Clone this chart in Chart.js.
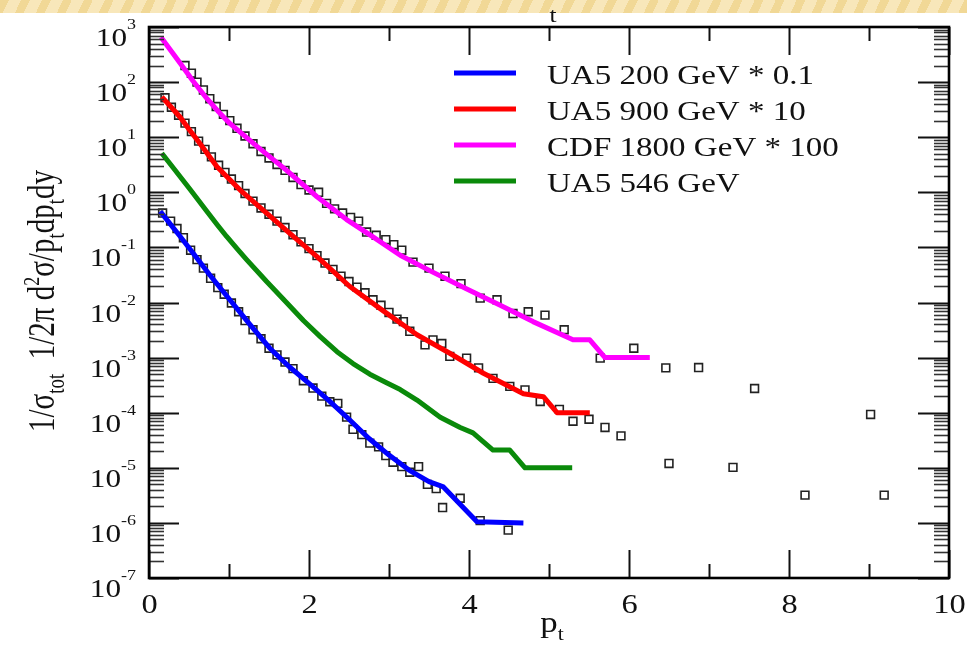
<!DOCTYPE html>
<html>
<head>
<meta charset="utf-8">
<script src="https://cdn.jsdelivr.net/npm/chart.js@4.4.1/dist/chart.umd.min.js"></script>
<style>
html,body{margin:0;padding:0;background:#fff;width:967px;height:658px;overflow:hidden;}
#band{position:absolute;left:0;top:0;width:967px;height:13px;overflow:hidden;
  background:repeating-linear-gradient(115deg,#f1d896 0 8px,#f8e7ba 8px 19px);}
#wrap{position:absolute;left:0;top:0;width:967px;height:658px;overflow:hidden;}
#ptChart{display:block;}
</style>
</head>
<body>
<div id="band"></div>
<div id="wrap"><canvas id="ptChart" width="967" height="658"></canvas></div>
<script>

// ---- fitted curves (pt, value) ----
const blueCurveX = [0.14,0.39,0.55,0.76,1.01,1.26,1.51,1.75,2.0,2.25,2.5,2.75,3.0,3.25,3.5,3.68,4.10,4.68];
const blueCurveY = [0.45,0.158,0.079,0.0316,0.0112,0.004,0.00148,0.00069,0.00034,0.000166,0.000076,0.000034,0.000017,0.0000091,0.0000056,0.0000045,0.00000105,0.000001];

const redCurveX = [0.16,0.27,0.39,0.5,0.62,0.85,1.14,1.47,1.76,2.10,2.51,2.92,3.35,3.76,4.18,4.68,4.93,5.10,5.51];
const redCurveY = [54,36,23,14,8.3,2.9,1.1,0.42,0.18,0.068,0.0195,0.0072,0.0026,0.0012,0.00052,0.00022,0.000195,0.0001,0.0001];

const magCurveX = [0.15,0.27,0.39,0.55,0.72,0.86,1.01,1.35,1.72,2.10,2.47,2.80,3.14,3.54,3.96,4.39,4.80,5.30,5.51,5.70,6.26];
const magCurveY = [650,380,220,105,51,30,17.8,6.8,2.5,0.83,0.32,0.155,0.072,0.036,0.018,0.0089,0.0045,0.0021,0.0021,0.001,0.001];

const greenCurveX = [0.16,0.30,0.51,0.72,0.85,0.97,1.1,1.22,1.47,1.68,1.93,2.14,2.35,2.55,2.76,2.95,3.14,3.35,3.64,3.89,4.05,4.30,4.51,4.70,5.29];
const greenCurveY = [5.1,2.82,1.15,0.457,0.26,0.158,0.095,0.06,0.024,0.0115,0.0047,0.0024,0.00128,0.00078,0.0005,0.00036,0.000263,0.00017,0.000083,0.000054,0.000043,0.000021,0.000021,0.00001,0.00001];

// ---- measured points (open squares) ----
const ua200PtsX = [0.17,0.27,0.35,0.43,0.52,0.6,0.68,0.77,0.86,0.94,1.03,1.12,1.2,1.3,1.4,1.5,1.6,1.7,1.8,1.93,2.05,2.16,2.26,2.36,2.47,2.55,2.66,2.76,2.87,2.96,3.05,3.16,3.26,3.37,3.48,3.59,3.67,3.89,4.14,4.49];
const ua200PtsY = [0.42,0.30,0.22,0.15,0.089,0.06,0.042,0.0275,0.0186,0.0141,0.0098,0.0068,0.0047,0.0032,0.0022,0.00148,0.00112,0.00083,0.00063,0.00038,0.00028,0.0002,0.000158,0.000148,0.000083,0.00005,0.00004,0.000028,0.000024,0.0000166,0.0000126,0.0000105,0.0000083,0.0000105,0.000005,0.0000042,0.0000019,0.0000028,0.0000011,0.00000074];

const ua900PtsX = [0.2,0.28,0.37,0.45,0.53,0.62,0.7,0.78,0.87,0.95,1.03,1.12,1.2,1.3,1.4,1.5,1.6,1.7,1.8,1.9,2.0,2.1,2.2,2.3,2.4,2.5,2.6,2.7,2.8,2.9,3.0,3.1,3.18,3.26,3.45,3.55,3.66,3.76,3.97,4.12,4.3,4.51,4.7,4.89,5.13,5.3,5.5,5.7,5.9,6.5,7.3,8.2,9.19];
const ua900PtsY = [52,35,25,18,12.6,8.5,6.0,4.4,3.1,2.3,1.74,1.32,0.95,0.69,0.52,0.4,0.3,0.23,0.17,0.126,0.095,0.071,0.052,0.04,0.03,0.024,0.019,0.015,0.0112,0.0089,0.0066,0.005,0.0045,0.003,0.0017,0.0021,0.0018,0.00105,0.00098,0.00065,0.00042,0.0003,0.00026,0.00016,0.000115,0.00007,0.000076,0.000054,0.000038,0.000012,0.0000102,0.0000032,0.0000032];

const cdfPtsX = [0.45,0.53,0.6,0.68,0.76,0.84,0.93,1.01,1.1,1.2,1.3,1.4,1.5,1.6,1.7,1.8,1.9,2.0,2.12,2.22,2.32,2.42,2.52,2.62,2.72,2.84,2.96,3.06,3.16,3.3,3.5,3.7,3.9,4.14,4.35,4.55,4.74,4.95,5.19,5.64,6.06,6.46,6.87,7.57,9.02];
const cdfPtsY = [200,145,100,72,50,36,26,20,14.5,10.5,7.6,5.5,4.2,3.2,2.5,1.86,1.38,1.1,1.0,0.63,0.5,0.42,0.35,0.3,0.19,0.166,0.138,0.112,0.089,0.054,0.042,0.030,0.022,0.012,0.0112,0.0063,0.0068,0.0059,0.0032,0.00098,0.00148,0.00065,0.00066,0.000275,0.000093];

// ---- axes ----
const xMajorTicks = [0,2,4,6,8,10];
const xMinorTicks = [1,3,5,7,9];
const yTickExps = [3,2,1,0,-1,-2,-3,-4,-5,-6,-7];

const serif = '"Liberation Serif", "DejaVu Serif", serif';
const stretch = 1.2;

function pts(xs, ys){
  return xs.map((x, i) => ({x: x, y: ys[i]}));
}

function richWidth(ctx, parts){
  let w = 0;
  parts.forEach(p => {
    ctx.font = p[1] + 'px ' + serif;
    w += ctx.measureText(p[0]).width;
  });
  return w;
}

// parts: [text, fontSize, baselineShift]
function drawRich(ctx, parts, x, y, sx, anchor){
  const total = richWidth(ctx, parts);
  let cx = anchor === 'right' ? -total : (anchor === 'center' ? -total / 2 : 0);
  ctx.save();
  ctx.translate(x, y);
  ctx.scale(sx, 1);
  ctx.textAlign = 'left';
  ctx.textBaseline = 'alphabetic';
  parts.forEach(p => {
    ctx.font = p[1] + 'px ' + serif;
    ctx.fillText(p[0], cx, p[2]);
    cx += ctx.measureText(p[0]).width;
  });
  ctx.restore();
}

function seg(ctx, x1, y1, x2, y2){
  ctx.beginPath();
  ctx.moveTo(x1, y1);
  ctx.lineTo(x2, y2);
  ctx.stroke();
}

const framePlugin = {
  id: 'framePlugin',
  afterDraw(chart){
    const ctx = chart.ctx;
    const a = chart.chartArea;
    const xs = chart.scales.x;
    const ys = chart.scales.y;
    ctx.save();
    ctx.fillStyle = '#111';

    // y minor ticks
    ctx.strokeStyle = '#333';
    ctx.lineWidth = 1.6;
    for (let i = 0; i < yTickExps.length - 1; i++){
      const e = yTickExps[i + 1];
      for (let m = 2; m <= 9; m++){
        const py = Math.round(ys.getPixelForValue(m * Math.pow(10, e))) + 0.5;
        seg(ctx, a.left, py, a.left + 15, py);
        seg(ctx, a.right - 15, py, a.right, py);
      }
    }
    // y major ticks + labels
    ctx.strokeStyle = '#111';
    ctx.lineWidth = 2;
    yTickExps.forEach(e => {
      const py = Math.round(ys.getPixelForValue(Math.pow(10, e))) + 0.5;
      seg(ctx, a.left, py, a.left + 30, py);
      seg(ctx, a.right - 31, py, a.right, py);
      drawRich(ctx, [['10', 26, 0], [String(e), 15, -17]], 136, py + 18, stretch, 'right');
    });

    // x ticks + labels
    xMinorTicks.forEach(v => {
      const px = Math.round(xs.getPixelForValue(v)) + 0.5;
      seg(ctx, px, a.bottom, px, a.bottom - 14);
      seg(ctx, px, a.top, px, a.top + 14);
    });
    xMajorTicks.forEach(v => {
      const px = Math.round(xs.getPixelForValue(v)) + 0.5;
      seg(ctx, px, a.bottom, px, a.bottom - 28);
      seg(ctx, px, a.top, px, a.top + 28);
      drawRich(ctx, [[String(v), 27, 0]], px, 613, stretch, 'center');
    });

    // frame
    ctx.lineWidth = 2.6;
    ctx.strokeStyle = '#000';
    ctx.strokeRect(a.left, a.top, a.right - a.left, a.bottom - a.top);

    // x title
    drawRich(ctx, [['p', 29, 0], ['t', 18, 8]], 552, 632, stretch, 'center');
    // clipped top title remnant
    drawRich(ctx, [['t', 21, 0]], 553, 22, stretch, 'center');

    // y title (rotated)
    ctx.save();
    ctx.translate(54, 301);
    ctx.rotate(-Math.PI / 2);
    ctx.scale(1, 1.28);
    drawRich(ctx, [
      ['1/\u03C3', 29, 0], ['tot', 19, 8], ['  1/2\u03C0 d', 29, 0], ['2', 18, -12],
      ['\u03C3/p', 29, 0], ['t', 19, 8], ['dp', 29, 0], ['t', 19, 8], ['dy', 29, 0]
    ], 0, 0, 1, 'center');
    ctx.restore();

    // legend
    const lines = chart.data.datasets.filter(d => d.inLegend);
    lines.forEach((d, i) => {
      const ly = 73 + 36 * i;
      ctx.strokeStyle = d.borderColor;
      ctx.lineWidth = 5;
      seg(ctx, 454, ly, 516, ly);
      drawRich(ctx, [[d.label, 28, 0]], 547, ly + 11, 1.18, 'left');
    });
    ctx.restore();
  }
};

function curve(label, xs, ys, color){
  return {
    type: 'line',
    label: label,
    inLegend: true,
    data: pts(xs, ys),
    borderColor: color,
    backgroundColor: color,
    borderWidth: 5,
    pointRadius: 0,
    fill: false,
    tension: 0,
    borderJoinStyle: 'round',
    borderCapStyle: 'butt',
    order: 0
  };
}

function squares(label, xs, ys){
  return {
    type: 'scatter',
    label: label,
    inLegend: false,
    data: pts(xs, ys),
    pointStyle: 'rect',
    pointRadius: 5.5,
    borderColor: '#222',
    borderWidth: 1.6,
    backgroundColor: 'rgba(0,0,0,0)',
    showLine: false,
    order: 1
  };
}

new Chart(document.getElementById('ptChart'), {
  type: 'line',
  data: {
    datasets: [
      curve('UA5 200 GeV * 0.1', blueCurveX, blueCurveY, '#0000ff'),
      curve('UA5 900 GeV * 10', redCurveX, redCurveY, '#ff0000'),
      curve('CDF 1800 GeV * 100', magCurveX, magCurveY, '#ff00ff'),
      curve('UA5 546 GeV', greenCurveX, greenCurveY, '#0a8a0a'),
      squares('UA5 200 data', ua200PtsX, ua200PtsY),
      squares('UA5 900 data', ua900PtsX, ua900PtsY),
      squares('CDF data', cdfPtsX, cdfPtsY)
    ]
  },
  options: {
    responsive: false,
    animation: false,
    devicePixelRatio: 1,
    layout: {padding: {left: 149, top: 27, right: 18, bottom: 80}},
    plugins: {legend: {display: false}, tooltip: {enabled: false}},
    scales: {
      x: {type: 'linear', min: 0, max: 10, display: false},
      y: {type: 'logarithmic', min: 1e-7, max: 1e3, display: false}
    }
  },
  plugins: [framePlugin]
});

</script>
</body>
</html>
